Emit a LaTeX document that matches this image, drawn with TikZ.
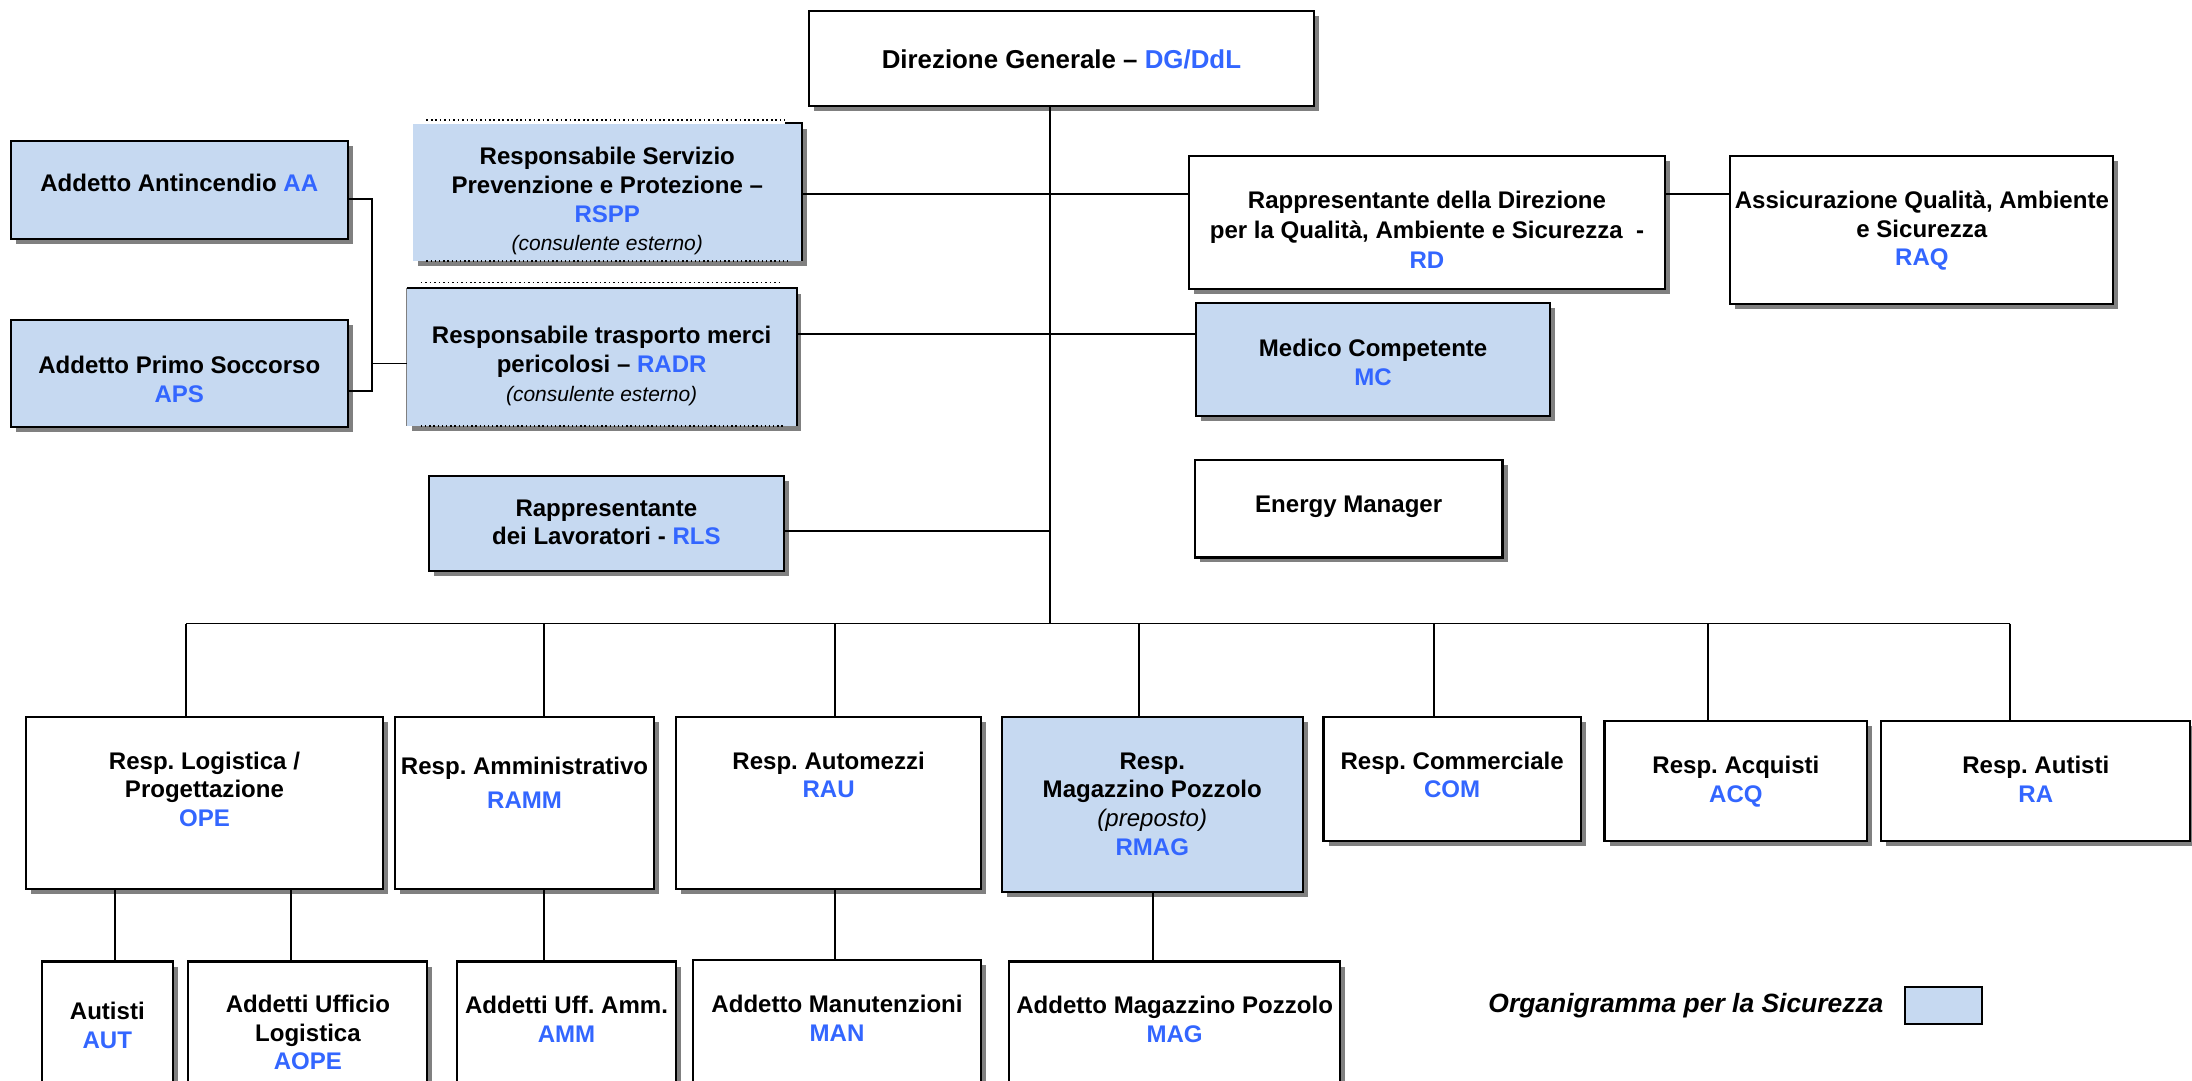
\documentclass[tikz,border=0pt]{standalone}
\usepackage{fontspec}
\setmainfont{Liberation Sans}
\usetikzlibrary{shadows}
\definecolor{tblue}{RGB}{51,102,255}
\definecolor{fblue}{RGB}{198,217,241}
\definecolor{shgray}{RGB}{128,128,128}
\newcommand\blu[1]{\textcolor{tblue}{#1}}
\newcommand\consest{{\fontsize{7.5}{9}\selectfont\mdseries\itshape(consulente esterno)}}
% name, x1, y1, x2, y2, first baseline y, style, text
\newcommand\bx[8]{%
  \pgfmathsetmacro\bxw{(#4-#2)*0.5}%
  \pgfmathsetmacro\bxh{(#6-#3)*0.5}%
  \pgfmathsetmacro\bxd{(#5-#6)*0.5}%
  \node[#7, inner sep=0pt, minimum width=\bxw pt, text height=\bxh pt, text depth=\bxd pt, anchor=north west] (#1) at (#2,#3)
    {\begin{tabular}[t]{@{}c@{}}#8\end{tabular}};}
\frenchspacing
\begin{document}
\begin{tikzpicture}[x=0.5pt,y=-0.5pt,
  boxshadow/.style={general shadow={fill=shgray,shadow xshift=1.8pt,shadow yshift=-1.8pt}},
  box/.style={draw=black,line width=0.75pt,fill=white,boxshadow,font=\fontsize{8.6}{10.25}\selectfont\bfseries\frenchspacing},
  sbox/.style={box,fill=fblue},
  pbox/.style={fill=fblue,boxshadow,font=\fontsize{8.6}{10.25}\selectfont\bfseries\frenchspacing},
  conn/.style={draw=black,line width=0.7pt}]
\useasboundingbox (0,0) rectangle (1568,773);
\clip (0,0) rectangle (1568,773);

% top part
\bx{dg}{578}{7}{939}{75}{48.5}{box,font=\fontsize{9.25}{11}\selectfont\bfseries}{Direzione Generale – \blu{DG/DdL}}
\bx{aa}{7}{100}{248}{170}{136.5}{sbox}{Addetto Antincendio \blu{AA}}
\bx{aps}{7}{228}{248}{305}{266.5}{sbox}{Addetto Primo Soccorso\\\blu{APS}}
\bx{rspp}{295}{88}{573}{186}{117.5}{pbox}{Responsabile Servizio\\Prevenzione e Protezione –\\\blu{RSPP}\\\consest}
\bx{radr}{291}{206}{569}{304}{245.5}{pbox}{Responsabile trasporto merci\\pericolosi – \blu{RADR}\\\consest}
\bx{rls}{306}{340}{560}{408}{368.5}{sbox}{Rappresentante\\dei Lavoratori - \blu{RLS}}
\bx{rd}{850}{111}{1190}{206}{148.5}{box}{Rappresentante della Direzione\\[0.5pt]per la Qualità, Ambiente e Sicurezza\ \ -\\[0.5pt]\blu{RD}}
\bx{raq}{1237}{111}{1511}{217}{148.5}{box}{Assicurazione Qualità, Ambiente\\e Sicurezza\\\blu{RAQ}}
\bx{mc}{855}{216}{1108}{297}{254.5}{sbox}{Medico Competente\\\blu{MC}}
\bx{em}{854}{328}{1074}{398}{365.5}{box}{Energy Manager}

% borders of the two external-consultant boxes
\draw[black,densely dotted,line width=0.6pt] ([xshift=5pt,yshift=1pt]rspp.north west) -- ([xshift=-6pt,yshift=1pt]rspp.north east);
\draw[black,line width=0.75pt] ([xshift=-6pt]rspp.north east) -- (rspp.north east) -- (rspp.south east);
\draw[black,densely dotted,line width=0.5pt] ([xshift=5pt]rspp.south west) -- ([xshift=-4pt]rspp.south east);
\draw[black,densely dotted,line width=0.6pt] ([xshift=5pt,yshift=2pt]radr.north west) -- ([xshift=-6pt,yshift=2pt]radr.north east);
\draw[black,line width=0.75pt] (radr.north west) -- (radr.north east) -- (radr.south east);
\draw[shgray,line width=0.4pt] (radr.north west) -- (radr.south west);
\draw[black,densely dotted,line width=0.5pt] ([xshift=5pt]radr.south west) -- ([xshift=-4pt]radr.south east);

% second row
\bx{ope}{18}{512}{273}{635}{549.5}{box}{Resp. Logistica /\\Progettazione\\\blu{OPE}}
\bx{ramm}{282}{512}{467}{635}{553.5}{box}{Resp. Amministrativo\\[1.75pt]\blu{RAMM}}
\bx{rau}{483}{512}{701}{635}{549.5}{box}{Resp. Automezzi\\\blu{RAU}}
\bx{rmag}{716}{512}{931}{637}{549.5}{sbox}{Resp.\\Magazzino Pozzolo\\{\mdseries\itshape(preposto)}\\\blu{RMAG}}
\bx{com}{946}{512}{1130}{601}{549.5}{box}{Resp. Commerciale\\\blu{COM}}
\bx{acq}{1147}{515}{1335}{601}{552.5}{box}{Resp. Acquisti\\\blu{ACQ}}
\bx{ra}{1345}{515}{1566}{601}{552.5}{box}{Resp. Autisti\\\blu{RA}}

% third row
\bx{aut}{29}{687}{123}{800}{728.5}{box}{Autisti\\\blu{AUT}}
\bx{aope}{134}{687}{305}{800}{723.5}{box}{Addetti Ufficio\\Logistica\\\blu{AOPE}}
\bx{amm}{326}{687}{483}{800}{724.5}{box}{Addetti Uff. Amm.\\\blu{AMM}}
\bx{man}{495}{686}{701}{800}{723.5}{box}{Addetto Manutenzioni\\\blu{MAN}}
\bx{mag}{721}{687}{958}{800}{724.5}{box}{Addetto Magazzino Pozzolo\\\blu{MAG}}

% legend
\node[font=\fontsize{9.45}{11}\selectfont\bfseries\itshape, anchor=base, inner sep=0pt] (legtxt) at (1206,724) {Organigramma per la Sicurezza};
\node[draw=black, line width=0.75pt, fill=fblue, minimum width=27.5pt, minimum height=13.5pt, inner sep=0pt, anchor=north west] (legbox) at (1362,705) {};

% connectors
\coordinate (spB) at (751,446);
\coordinate (jR) at (751,139);
\coordinate (jM) at (751,239);
\coordinate (jL) at (751,380);
\draw[conn] (dg.south -| spB) -- (spB);
\draw[conn] (rspp.east |- jR) -- (rd.west |- jR);
\draw[conn] (rd.east |- jR) -- (raq.west |- jR);
\draw[conn] (radr.east |- jM) -- (mc.west |- jM);
\draw[conn] (rls.east |- jL) -- (jL);
\coordinate (kA) at (266,142);
\coordinate (kP) at (266,280);
\coordinate (kR) at (266,260);
\draw[conn] (aa.east |- kA) -- (kA) -- (kP) -- (aps.east |- kP);
\draw[conn] (kR) -- (radr.west |- kR);

\coordinate (busL) at (133,446);
\coordinate (busR) at (1438,446);
\draw[conn] (busL) -- (busR);
\foreach \xx/\nn in {133/ope,389/ramm,597/rau,815/rmag,1026/com,1222/acq,1438/ra}{
  \coordinate (b\nn) at (\xx,446);
  \draw[conn] (b\nn) -- (\nn.north -| b\nn);
}
\foreach \xx/\pp/\cc in {82/ope/aut,208/ope/aope,389/ramm/amm,597/rau/man,825/rmag/mag}{
  \coordinate (t\cc) at (\xx,660);
  \draw[conn] (\pp.south -| t\cc) -- (\cc.north -| t\cc);
}
\end{tikzpicture}
\end{document}
